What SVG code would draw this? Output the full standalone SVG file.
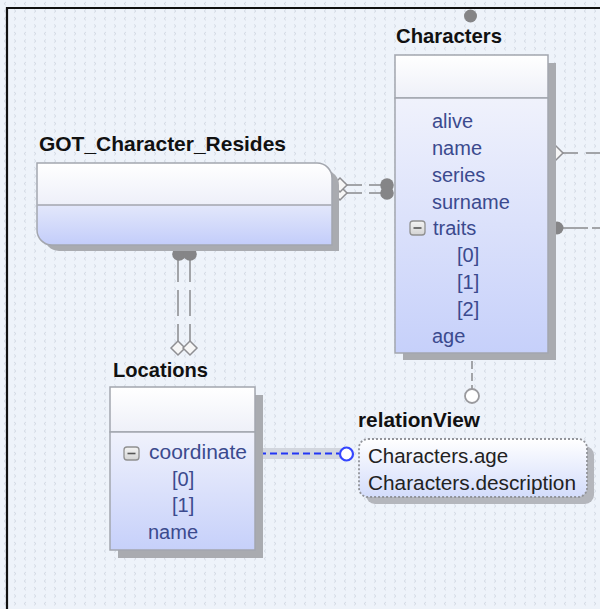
<svg xmlns="http://www.w3.org/2000/svg" width="600" height="609" viewBox="0 0 600 609">
<style>
.title{font-family:"Liberation Sans",Arial,sans-serif;font-weight:bold;font-size:21px;fill:#111}
.attr{font-family:"Liberation Sans",Arial,sans-serif;font-size:20px;fill:#3b4a8e}
.rv{font-family:"Liberation Sans",Arial,sans-serif;font-size:20.5px;fill:#222}
.box{stroke:#a3a6ae;stroke-width:1.5}
.sep{stroke:#a3a6ae;stroke-width:1.5;fill:none}
.shadow{fill:#a9abb0}
.conn{stroke:#a2a4a8;stroke-width:2;fill:none}
.dot{fill:#858587}
.dia{fill:#f6f6f6;stroke:#8e8e92;stroke-width:1.5}
.hole{fill:#fff;stroke:#9a9a9e;stroke-width:1.8}
.mbox{fill:url(#gMinus);stroke:#909090;stroke-width:1.3}
.mline{stroke:#555;stroke-width:1.6}
</style>
<defs>
<pattern id="bg" width="20" height="7.5" patternUnits="userSpaceOnUse">
<path d="M6,2 l-2,1.6 l2,1.6 M14,2 l2,1.6 l-2,1.6" stroke="#cfd5e0" stroke-width="0.9" fill="none"/>
</pattern>
<linearGradient id="gHead" x1="0" y1="0" x2="0" y2="1"><stop offset="0" stop-color="#ffffff"/><stop offset="1" stop-color="#eef0f8"/></linearGradient>
<linearGradient id="gBody" x1="0" y1="0" x2="0" y2="1"><stop offset="0" stop-color="#f0f2fc"/><stop offset="1" stop-color="#c6d0fa"/></linearGradient>
<linearGradient id="gGot" x1="0" y1="0" x2="0" y2="1"><stop offset="0" stop-color="#ffffff"/><stop offset="0.5" stop-color="#eef0f9"/><stop offset="0.52" stop-color="#e2e7fb"/><stop offset="1" stop-color="#c3cdfa"/></linearGradient>
<linearGradient id="gRv" x1="0" y1="0" x2="0" y2="1"><stop offset="0" stop-color="#ffffff"/><stop offset="1" stop-color="#d3dcfb"/></linearGradient>
<linearGradient id="gMinus" x1="0" y1="0" x2="0" y2="1"><stop offset="0" stop-color="#f4f4f4"/><stop offset="1" stop-color="#d4d4d4"/></linearGradient>
</defs>
<rect width="600" height="609" fill="#eef3fa"/>
<rect width="600" height="609" fill="url(#bg)"/>
<path d="M7,609 V8 H600" stroke="#111" stroke-width="2.2" fill="none"/>

<g id="connectors">
<circle class="dot" cx="470.5" cy="16" r="6.5"/>
<path class="conn" d="M562,153 H600" stroke-dasharray="16 8"/>
<path class="dia" d="M549,153 l7,-7 l7,7 l-7,7 z"/>
<path class="conn" d="M563,228 H600" stroke-dasharray="25 4"/>
<circle class="dot" cx="557" cy="228" r="6.5"/>
<path class="conn" d="M346,185 H384 M346,193 H384" stroke-dasharray="16 7"/>
<path class="dia" d="M333,193 l7,-7 l7,7 l-7,7 z"/>
<path class="dia" d="M333,185 l7,-7 l7,7 l-7,7 z"/>
<circle class="dot" cx="387" cy="185" r="6.8"/>
<circle class="dot" cx="387" cy="193" r="6.8"/>
<path class="conn" d="M178,256 V342 M190,256 V342" stroke-dasharray="26 8"/>
<circle class="dot" cx="179" cy="254" r="6.8"/>
<circle class="dot" cx="190" cy="254" r="6.8"/>
<path class="dia" d="M171,348 l7,-7 l7,7 l-7,7 z"/>
<path class="dia" d="M183,348 l7,-7 l7,7 l-7,7 z"/>
<path class="conn" d="M472,361 V389" stroke-dasharray="8 4"/>
<circle class="hole" cx="472" cy="396" r="7"/>
<rect x="257" y="448" width="84" height="11" fill="#d2d6de"/>
<path d="M259,453.5 H339" stroke="#2236f5" stroke-width="2" stroke-dasharray="7 4" fill="none"/>
<circle cx="346.5" cy="454" r="6.5" fill="#fff" stroke="#3446ff" stroke-width="2.2"/>
</g>

<g id="node-got">
<text class="title" x="39" y="151" textLength="247" lengthAdjust="spacingAndGlyphs">GOT_Character_Resides</text>
<path class="shadow" d="M44,170 H324 A15,15 0 0 1 339,185 V251 H59 A15,15 0 0 1 44,236 Z"/>
<path class="box" fill="url(#gGot)" d="M37,163 H317 A15,15 0 0 1 332,178 V245 H52 A15,15 0 0 1 37,230 Z"/>
<path class="sep" d="M37.5,205 H331.5"/>
</g>

<g id="node-characters">
<text class="title" x="396" y="43" textLength="106" lengthAdjust="spacingAndGlyphs">Characters</text>
<rect class="shadow" x="403" y="63" width="153" height="297"/>
<rect class="box" x="395" y="55" width="153" height="43" fill="url(#gHead)"/>
<rect class="box" x="395" y="98" width="153" height="255" fill="url(#gBody)"/>
<text class="attr" x="432" y="128">alive</text>
<text class="attr" x="432" y="155">name</text>
<text class="attr" x="432" y="181.5">series</text>
<text class="attr" x="432" y="208.5">surname</text>
<rect class="mbox" x="410" y="221" width="15" height="14" rx="3"/>
<path class="mline" d="M413.5,228 H421.5"/>
<text class="attr" x="433" y="235">traits</text>
<text class="attr" x="457" y="262">[0]</text>
<text class="attr" x="457" y="289">[1]</text>
<text class="attr" x="457" y="315.5">[2]</text>
<text class="attr" x="432" y="342.5">age</text>
</g>

<g id="node-locations">
<text class="title" x="113" y="377" textLength="95" lengthAdjust="spacingAndGlyphs">Locations</text>
<rect class="shadow" x="118" y="395" width="145" height="163"/>
<rect class="box" x="110" y="387" width="145" height="45" fill="url(#gHead)"/>
<rect class="box" x="110" y="432" width="145" height="118" fill="url(#gBody)"/>
<rect class="mbox" x="124" y="447" width="15" height="13" rx="3"/>
<path class="mline" d="M127.5,453.5 H135.5"/>
<text class="attr" x="149" y="459" textLength="98" lengthAdjust="spacingAndGlyphs">coordinate</text>
<text class="attr" x="172" y="485.5">[0]</text>
<text class="attr" x="172" y="512">[1]</text>
<text class="attr" x="148" y="538.5">name</text>
</g>

<g id="node-relationview">
<text class="title" x="358" y="427" textLength="122" lengthAdjust="spacingAndGlyphs">relationView</text>
<rect x="366" y="446" width="228" height="58" rx="9" fill="#b4b6bc"/>
<rect x="359" y="439" width="228" height="58" rx="9" fill="url(#gRv)" stroke="#92949a" stroke-width="1.8" stroke-dasharray="2 2"/>
<text class="rv" x="368" y="463">Characters.age</text>
<text class="rv" x="368" y="490" textLength="208" lengthAdjust="spacingAndGlyphs">Characters.description</text>
</g>
</svg>
